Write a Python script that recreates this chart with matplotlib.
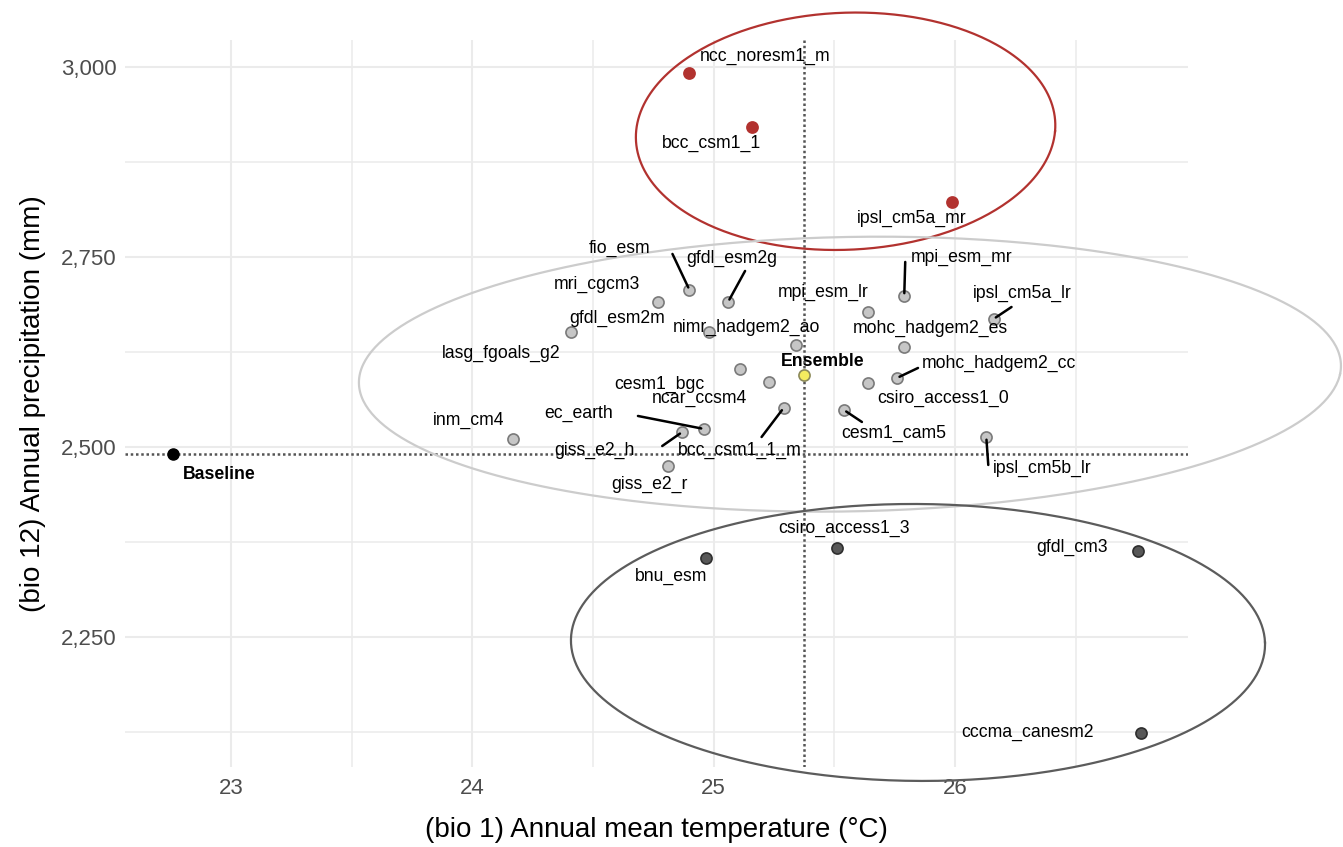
# -*- coding: utf-8 -*-
"""
Scatter of future annual mean temperature vs annual precipitation per GCM,
with the baseline and the ensemble marked and the model groups circled.
"""

import numpy as np
import matplotlib.pyplot as plt
from matplotlib.ticker import MultipleLocator, FuncFormatter

plt.rcParams["font.family"] = ["Liberation Sans", "DejaVu Sans"]

# Data
# ====
models = [
    "fio_esm", "gfdl_esm2g", "mri_cgcm3", "gfdl_esm2m", "nimr_hadgem2_ao",
    "mpi_esm_lr", "mpi_esm_mr", "ipsl_cm5a_lr", "mohc_hadgem2_es", "lasg_fgoals_g2",
    "cesm1_bgc", "ncar_ccsm4", "csiro_access1_0", "mohc_hadgem2_cc", "bcc_csm1_1_m",
    "cesm1_cam5", "inm_cm4", "giss_e2_h", "ec_earth", "ipsl_cm5b_lr", "giss_e2_r",
    "ncc_noresm1_m", "bcc_csm1_1", "ipsl_cm5a_mr",
    "csiro_access1_3", "gfdl_cm3", "bnu_esm", "cccma_canesm2",
]
bio1 = [
    24.90, 25.06, 24.77, 24.41, 24.98,
    25.64, 25.79, 26.16, 25.79, 25.34,
    25.11, 25.23, 25.64, 25.76, 25.29,
    25.54, 24.17, 24.87, 24.96, 26.13, 24.81,
    24.90, 25.16, 25.99,
    25.51, 26.76, 24.97, 26.77,
]
bio12 = [
    2706.6, 2690.8, 2690.8, 2651.3, 2651.3,
    2677.6, 2698.7, 2668.4, 2631.6, 2634.2,
    2602.6, 2585.5, 2584.2, 2590.8, 2551.3,
    2548.7, 2510.5, 2519.7, 2523.7, 2513.2, 2475.0,
    2992.1, 2921.1, 2822.4,
    2367.5, 2363.2, 2353.9, 2124.1,
]
group = ["mid"] * 21 + ["wet"] * 3 + ["dry"] * 4

baseline = (22.759, 2490.4)
ensemble = (25.373, 2594.1)

# ellipses around the groups: centre x, centre y, half width, tilt, half height
ellipses = {
    "wet": (25.547, 2915.4, 0.868, 0.043, 156.2),
    "mid": (25.565, 2595.8, 2.031, 0.124, 180.9),
    "dry": (25.847, 2242.8, 1.438, -0.021, 182.2),
}

# Style / layout
# ==============
fill = {"mid": "#c6c6c6", "wet": "#b2322f", "dry": "#585858"}
edge = {"mid": "#7a7a7a", "wet": "#b2322f", "dry": "#2e2e2e"}
ring = {"mid": "#cccccc", "wet": "#b2322f", "dry": "#5c5c5c"}

# label offsets in pixels (dx right, dy up) from the point
label_off = {
    "fio_esm": (-70, 42), "gfdl_esm2g": (4, 44), "mri_cgcm3": (-61, 18),
    "gfdl_esm2m": (46, 14), "nimr_hadgem2_ao": (38, 5), "mpi_esm_lr": (-45, 20),
    "mpi_esm_mr": (57, 39), "ipsl_cm5a_lr": (29, 26), "mohc_hadgem2_es": (26, 19),
    "lasg_fgoals_g2": (-294, -8), "cesm1_bgc": (-81, -15), "ncar_ccsm4": (-70, -16),
    "csiro_access1_0": (75, -15), "mohc_hadgem2_cc": (102, 15),
    "bcc_csm1_1_m": (-44, -42), "cesm1_cam5": (50, -23), "inm_cm4": (-45, 19),
    "giss_e2_h": (-88, -18), "ec_earth": (-125, 16), "ipsl_cm5b_lr": (56, -31),
    "giss_e2_r": (-18, -18), "ncc_noresm1_m": (76, 17), "bcc_csm1_1": (-41, -16),
    "ipsl_cm5a_mr": (-41, -16), "csiro_access1_3": (7, 19), "gfdl_cm3": (-66, 4),
    "bnu_esm": (-35, -18), "cccma_canesm2": (-113, 0),
}
# where the leader segment starts, pixels from the point
segment_off = {
    "fio_esm": (-17, 36), "gfdl_esm2g": (17, 31), "mpi_esm_mr": (1, 34),
    "ipsl_cm5a_lr": (18, 12), "mohc_hadgem2_cc": (21, 10), "cesm1_cam5": (18, -12),
    "ipsl_cm5b_lr": (2, -28), "ec_earth": (-66, 13), "giss_e2_h": (-20, -14),
    "bcc_csm1_1_m": (-22, -29),
}

# Plot
# ====
fig = plt.figure(figsize=(13.43, 8.47), dpi=100)
ax = fig.add_axes([0.0931, 0.0945, 0.7915, 0.8583])

ax.set_xlim(22.561, 26.966)
ax.set_ylim(2079, 3035.5)

ax.xaxis.set_major_locator(MultipleLocator(1))
ax.xaxis.set_minor_locator(MultipleLocator(0.5))
ax.yaxis.set_major_locator(MultipleLocator(250))
ax.yaxis.set_minor_locator(MultipleLocator(125))
ax.yaxis.set_major_formatter(FuncFormatter(lambda v, p: "{:,.0f}".format(v)))
ax.grid(which="major", color="#ebebeb", lw=1.5)
ax.grid(which="minor", color="#ebebeb", lw=1.1)
ax.set_axisbelow(True)
for s in ax.spines.values():
    s.set_visible(False)
ax.tick_params(which="both", length=0)
ax.tick_params(axis="both", labelsize=16, labelcolor="#4d4d4d")
ax.tick_params(axis="x", pad=8)
ax.tick_params(axis="y", pad=6)

ax.axhline(baseline[1], color="#555555", ls=(0, (1, 1.1)), lw=1.8, zorder=2)
ax.axvline(ensemble[0], color="#555555", ls=(0, (1, 1.1)), lw=1.8, zorder=2)

t = np.linspace(0, 2 * np.pi, 400)
for g, (cx, cy, a, s, b) in ellipses.items():
    ax.plot(cx + a * np.cos(t) + s * np.sin(t), cy + b * np.sin(t),
            color=ring[g], lw=1.6, clip_on=False, zorder=3)

for name, x, y, g in zip(models, bio1, bio12, group):
    ax.plot(x, y, "o", ms=8, mfc=fill[g], mec=edge[g], mew=1.2, zorder=5)
    dx, dy = label_off[name]
    ax.annotate(name, (x, y), xytext=(dx, dy), textcoords="offset pixels",
                ha="center", va="center", fontsize=12.7, color="black", zorder=6)
    if name in segment_off:
        ax.annotate("", (x, y), xytext=segment_off[name], textcoords="offset pixels",
                    arrowprops=dict(arrowstyle="-", color="black", lw=1.8,
                                    shrinkA=0, shrinkB=2), zorder=6)

ax.plot(*ensemble, "o", ms=8, mfc="#f5ec5f", mec="#8c8a5a", mew=1.2, zorder=5)
ax.annotate("Ensemble", ensemble, xytext=(19, 14), textcoords="offset pixels",
            ha="center", va="center", fontsize=12.7, fontweight="bold")
ax.plot(*baseline, "o", ms=8, mfc="black", mec="black", zorder=5, clip_on=False)
ax.annotate("Baseline", baseline, xytext=(46, -20), textcoords="offset pixels",
            ha="center", va="center", fontsize=12.7, fontweight="bold")

ax.set_xlabel("(bio 1) Annual mean temperature (°C)", fontsize=20, labelpad=13)
ax.set_ylabel("(bio 12) Annual precipitation (mm)", fontsize=20, labelpad=11)

plt.savefig("out.png", dpi=100)
